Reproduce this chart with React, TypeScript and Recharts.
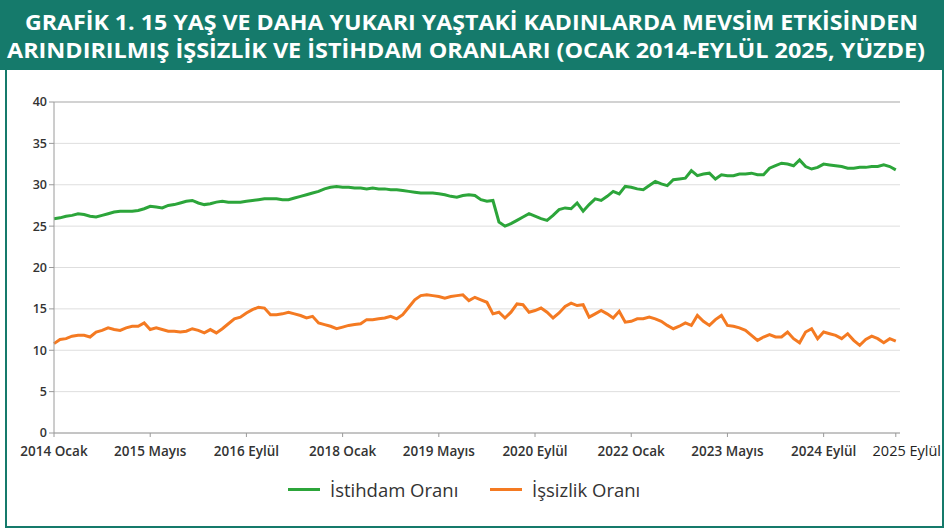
import React from 'react';
import {
	LineChart,
	Line,
	XAxis,
	YAxis,
	CartesianGrid,
	ReferenceLine,
} from 'recharts';

/* ─── Data (Ocak 2014 – Eylül 2025, monthly, %) ───────── */

const istihdam: number[] = [
	25.9, 26.0, 26.2, 26.3, 26.5, 26.4, 26.2, 26.1, 26.3, 26.5, 26.7, 26.8,
	26.8, 26.8, 26.9, 27.1, 27.4, 27.3, 27.2, 27.5, 27.6, 27.8, 28.0, 28.1,
	27.8, 27.6, 27.7, 27.9, 28.0, 27.9, 27.9, 27.9, 28.0, 28.1, 28.2, 28.3,
	28.3, 28.3, 28.2, 28.2, 28.4, 28.6, 28.8, 29.0, 29.2, 29.5, 29.7, 29.8,
	29.7, 29.7, 29.6, 29.6, 29.5, 29.6, 29.5, 29.5, 29.4, 29.4, 29.3, 29.2,
	29.1, 29.0, 29.0, 29.0, 28.9, 28.8, 28.6, 28.5, 28.7, 28.8, 28.7, 28.2,
	28.0, 28.1, 25.5, 25.0, 25.3, 25.7, 26.1, 26.5, 26.2, 25.9, 25.7, 26.3,
	27.0, 27.2, 27.1, 27.8, 26.8, 27.6, 28.3, 28.1, 28.6, 29.2, 28.9, 29.8,
	29.7, 29.5, 29.4, 29.9, 30.4, 30.1, 29.9, 30.6, 30.7, 30.8, 31.7, 31.1,
	31.3, 31.4, 30.7, 31.2, 31.1, 31.1, 31.3, 31.3, 31.4, 31.2, 31.2, 32.0,
	32.3, 32.6, 32.5, 32.3, 33.0, 32.2, 31.9, 32.1, 32.5, 32.4, 32.3, 32.2,
	32.0, 32.0, 32.1, 32.1, 32.2, 32.2, 32.4, 32.2, 31.8,
];

const issizlik: number[] = [
	10.8, 11.3, 11.4, 11.7, 11.8, 11.8, 11.6, 12.2, 12.4, 12.7, 12.5, 12.4,
	12.7, 12.9, 12.9, 13.3, 12.5, 12.7, 12.5, 12.3, 12.3, 12.2, 12.3, 12.6,
	12.4, 12.1, 12.5, 12.1, 12.6, 13.2, 13.8, 14.0, 14.5, 14.9, 15.2, 15.1,
	14.3, 14.3, 14.4, 14.6, 14.4, 14.2, 13.9, 14.1, 13.3, 13.1, 12.9, 12.6,
	12.8, 13.0, 13.1, 13.2, 13.7, 13.7, 13.8, 13.9, 14.1, 13.8, 14.3, 15.2,
	16.1, 16.6, 16.7, 16.6, 16.5, 16.3, 16.5, 16.6, 16.7, 16.0, 16.4, 16.1,
	15.8, 14.4, 14.6, 13.9, 14.6, 15.6, 15.5, 14.6, 14.8, 15.1, 14.6, 13.9,
	14.5, 15.3, 15.7, 15.4, 15.5, 14.0, 14.4, 14.8, 14.4, 13.9, 14.7, 13.4,
	13.5, 13.8, 13.8, 14.0, 13.8, 13.5, 13.0, 12.6, 12.9, 13.3, 13.0, 14.2,
	13.5, 13.0, 13.7, 14.2, 13.0, 12.9, 12.7, 12.4, 11.8, 11.2, 11.6, 11.9,
	11.6, 11.6, 12.2, 11.4, 10.9, 12.2, 12.6, 11.4, 12.2, 12.0, 11.8, 11.4,
	12.0, 11.2, 10.6, 11.3, 11.7, 11.4, 10.9, 11.4, 11.1,
];

const tickIndex: number[] = [0, 16, 32, 48, 64, 80, 96, 112, 128, 140];
const tickLabels: string[] = [
	'2014 Ocak',
	'2015 Mayıs',
	'2016 Eylül',
	'2018 Ocak',
	'2019 Mayıs',
	'2020 Eylül',
	'2022 Ocak',
	'2023 Mayıs',
	'2024 Eylül',
	'2025 Eylül',
];

const yTicks: number[] = [0, 5, 10, 15, 20, 25, 30, 35, 40];

const data = istihdam.map((v, i) => ({
	i,
	istihdam: v,
	issizlik: issizlik[i],
}));

/* ─── Styles ──────────────────────────────────────────── */

const TEAL = '#157a6b';
const GREEN = '#2ca53a';
const ORANGE = '#f47a22';
const FONT = '"Open Sans", sans-serif';

/* ─── X tick ──────────────────────────────────────────── */

function XTick(props: any) {
	const { x, y, payload } = props;
	const idx = tickIndex.indexOf(payload.value);
	const label = tickLabels[idx] ?? '';
	const last = payload.value === 140;

	return (
		<text
			x={last ? x + 11 : x}
			y={y + 17}
			textAnchor="middle"
			fontFamily={FONT}
			fontSize={last ? 14.5 : 13.5}
			fontWeight={last ? 400 : 600}
			fill={last ? '#222' : '#333'}
		>
			{label}
		</text>
	);
}

/* ─── Legend ──────────────────────────────────────────── */

function LegendItem({
	                    left,
	                    color,
	                    label,
                    }: {
	left: number;
	color: string;
	label: string;
}) {
	return (
		<div
			style={{
				position: 'absolute',
				left,
				top: 477,
				display: 'flex',
				alignItems: 'center',
				fontFamily: FONT,
				fontSize: 18.5,
				color: '#333',
			}}
		>
			<div style={{ width: 32, height: 3, background: color, marginRight: 10 }} />
			<span>{label}</span>
		</div>
	);
}

/* ─── Main export ─────────────────────────────────────── */

export default function App() {
	return (
		<div
			style={{
				position: 'absolute',
				left: 0,
				top: 0,
				width: 944,
				height: 530,
				background: '#fff',
				overflow: 'hidden',
			}}
		>
			{/* ── Title banner ── */}
			<svg
				width={944}
				height={70}
				style={{ position: 'absolute', left: 0, top: 0 }}
			>
				<rect x={0} y={0} width={944} height={70} fill={TEAL} />
				<text
					x={25}
					y={30}
					textLength={893}
					lengthAdjust="spacingAndGlyphs"
					fontFamily={FONT}
					fontWeight={700}
					fontSize={22}
					fill="#fff"
				>
					GRAFİK 1. 15 YAŞ VE DAHA YUKARI YAŞTAKİ KADINLARDA MEVSİM ETKİSİNDEN
				</text>
				<text
					x={7}
					y={58}
					textLength={918}
					lengthAdjust="spacingAndGlyphs"
					fontFamily={FONT}
					fontWeight={700}
					fontSize={22}
					fill="#fff"
				>
					ARINDIRILMIŞ İŞSİZLİK VE İSTİHDAM ORANLARI (OCAK 2014-EYLÜL 2025, YÜZDE)
				</text>
			</svg>

			{/* ── Frame ── */}
			<div
				style={{
					position: 'absolute',
					left: 5,
					top: 70,
					width: 935,
					height: 456,
					borderLeft: `2px solid ${TEAL}`,
					borderRight: `2px solid ${TEAL}`,
					borderBottom: `2px solid ${TEAL}`,
				}}
			/>

			{/* ── Chart ── */}
			<div style={{ position: 'absolute', left: 0, top: 0 }}>
				<LineChart
					width={944}
					height={530}
					data={data}
					margin={{ top: 102, right: 44, left: 0, bottom: 67 }}
				>
					<CartesianGrid vertical={false} stroke="#dedede" />

					<XAxis
						dataKey="i"
						type="number"
						domain={[0, 140.7]}
						ticks={tickIndex}
						tick={<XTick />}
						tickSize={4}
						stroke="#9a9a9a"
						height={30}
						interval={0}
					/>

					<YAxis
						domain={[0, 40]}
						ticks={yTicks}
						width={54}
						tickSize={5}
						tickMargin={2}
						stroke="#9a9a9a"
						tick={{
							fontFamily: FONT,
							fontSize: 12.5,
							fontWeight: 600,
							fill: '#333',
						}}
					/>

					<YAxis
						yAxisId="r"
						orientation="right"
						domain={[0, 40]}
						width={0}
						tick={false}
						tickLine={false}
						stroke="#aaaaaa"
					/>

					<ReferenceLine y={40} stroke="#b5b5b5" />

					<Line
						dataKey="istihdam"
						stroke={GREEN}
						strokeWidth={3}
						dot={false}
						isAnimationActive={false}
					/>

					<Line
						dataKey="issizlik"
						stroke={ORANGE}
						strokeWidth={3}
						dot={false}
						isAnimationActive={false}
					/>
				</LineChart>
			</div>

			{/* ── Legend ── */}
			<LegendItem left={288} color={GREEN} label="İstihdam Oranı" />
			<LegendItem left={490} color={ORANGE} label="İşsizlik Oranı" />
		</div>
	);
}
